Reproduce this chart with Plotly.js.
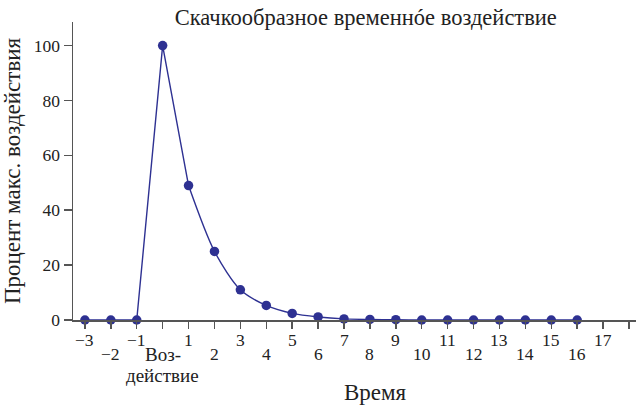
<!DOCTYPE html>
<html>
<head>
<meta charset="utf-8">
<script src="https://cdn.plot.ly/plotly-3.0.1.min.js"></script>
<style>
  html, body { margin: 0; padding: 0; background: #fff; }
  #chart { width: 636px; height: 405px; }
  /* all chart text is set in a Times-like serif face */
  #chart svg text { font-family: 'Liberation Serif', serif !important; }
</style>
</head>
<body>
<div id="chart"></div>
<script>
// Time steps relative to the intervention (0 = the moment of the pulse)
const time = [-3, -2, -1, 0, 1, 2, 3, 4, 5, 6, 7, 8, 9, 10, 11, 12, 13, 14, 15, 16];
// Share of the maximum effect, in percent
const effect = [0, 0, 0, 100, 49, 25, 11, 5.3, 2.4, 1.1, 0.4, 0.2, 0.1, 0, 0, 0, 0, 0, 0, 0];

// Tick positions and their labels along the time axis
const tickPositions = [-3, -2, -1, 0, 1, 2, 3, 4, 5, 6, 7, 8, 9, 10, 11, 12, 13, 14, 15, 16, 17, 18];
const tickLabels = ['−3', '−2', '−1', 'Воз-<br>действие', '1', '2', '3', '4', '5', '6', '7', '8', '9',
                    '10', '11', '12', '13', '14', '15', '16', '17', ''];

const yTicks = [0, 20, 40, 60, 80, 100];

const navy = '#2e3192';
const serif = 'Liberation Serif';

// Straight rise and fall around the pulse, smooth decay afterwards
const iPulseEnd = time.indexOf(1);
const traces = [
  {
    x: time.slice(0, iPulseEnd + 1), y: effect.slice(0, iPulseEnd + 1),
    type: 'scatter', mode: 'lines', line: {color: navy, width: 1.4},
    cliponaxis: false, hoverinfo: 'skip'
  },
  {
    x: time.slice(iPulseEnd), y: effect.slice(iPulseEnd),
    type: 'scatter', mode: 'lines', line: {color: navy, width: 1.4, shape: 'spline', smoothing: 0.8},
    cliponaxis: false, hoverinfo: 'skip'
  },
  {
    x: time, y: effect,
    type: 'scatter', mode: 'markers', marker: {color: navy, size: 9.5},
    cliponaxis: false
  }
];

// Odd ticks sit on the upper row, even ticks (and the intervention) on the lower row;
// a multi-line label is split so each line can be spaced tightly.
const tickAnnotations = [];
tickPositions.forEach((t, i) => {
  if (!tickLabels[i]) return;
  const lines = tickLabels[i].split('<br>');
  const isWord = lines.length > 1 || /[А-яЁё]/.test(tickLabels[i]);
  lines.forEach((line, k) => {
    tickAnnotations.push({
      x: t, y: 0, xref: 'x', yref: 'paper',
      text: line,
      showarrow: false,
      xanchor: 'center', yanchor: 'middle',
      yshift: ((Math.abs(t) % 2 === 1) ? -20 : -34) - 21 * k,
      font: {family: serif, size: isWord ? 19 : 17.5, color: '#222'}
    });
  });
});

const layout = {
  width: 636, height: 405,
  margin: {l: 73, r: 0, t: 22, b: 85},
  paper_bgcolor: '#fff', plot_bgcolor: '#fff',
  showlegend: false,
  font: {family: serif, color: '#222'},
  title: {
    text: 'Скачкообразное временнóе воздействие',
    font: {family: serif, size: 22.5, color: '#222'},
    xref: 'paper', x: 0.520, xanchor: 'center',
    yref: 'container', y: 0.958, yanchor: 'middle'
  },
  xaxis: {
    range: [-3.46, 18.27],
    tickvals: tickPositions,
    showticklabels: false,
    ticks: 'outside', ticklen: 7, tickwidth: 1.5, tickcolor: '#555',
    showline: true, linecolor: '#555', linewidth: 1.5,
    showgrid: false, zeroline: false
  },
  yaxis: {
    range: [0, 108.6],
    tickvals: yTicks,
    ticks: 'outside', ticklen: 8, tickwidth: 1.5, tickcolor: '#555',
    tickfont: {family: serif, size: 17.5, color: '#222'},
    showline: true, linecolor: '#555', linewidth: 1.5,
    showgrid: false, zeroline: false,
    title: {text: 'Процент макс. воздействия', font: {family: serif, size: 23, color: '#222'}, standoff: 8}
  },
  annotations: tickAnnotations.concat([{
    x: (375 - 73) / (636 - 73), xref: 'paper', y: 0, yref: 'paper',
    text: 'Время', showarrow: false,
    xanchor: 'center', yanchor: 'middle', yshift: -72,
    font: {family: serif, size: 23, color: '#222'}
  }])
};

Plotly.newPlot('chart', traces, layout, {displayModeBar: false, staticPlot: true});
</script>
</body>
</html>
